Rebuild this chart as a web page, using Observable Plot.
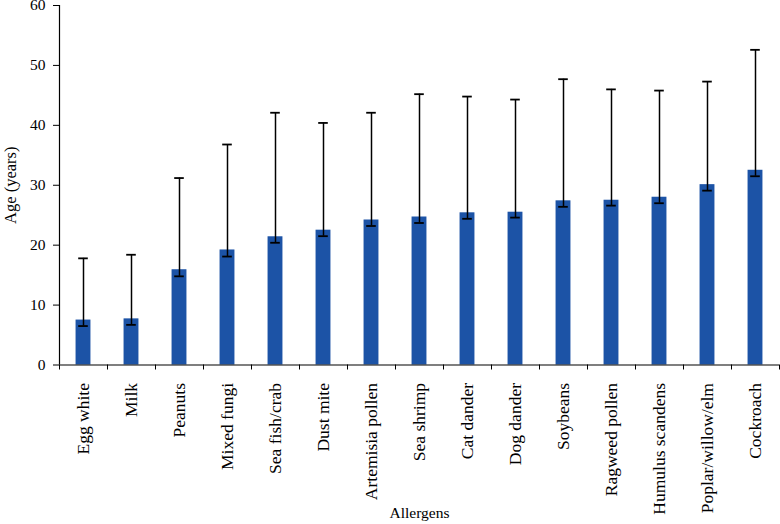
<!DOCTYPE html>
<html>
<head>
<meta charset="utf-8">
<script src="https://cdn.jsdelivr.net/npm/d3@7"></script>
<script src="https://cdn.jsdelivr.net/npm/@observablehq/plot@0.6"></script>
<style>
  html, body { margin: 0; padding: 0; background: #fff; }
</style>
</head>
<body>
<div id="chart"></div>
<script>
const categories = ["Egg white", "Milk", "Peanuts", "Mixed fungi", "Sea fish/crab", "Dust mite", "Artemisia pollen", "Sea shrimp", "Cat dander", "Dog dander", "Soybeans", "Ragweed pollen", "Humulus scandens", "Poplar/willow/elm", "Cockroach"];
const means = [7.5, 7.7, 15.9, 19.2, 21.4, 22.5, 24.2, 24.7, 25.4, 25.5, 27.4, 27.5, 28.0, 30.1, 32.5];
const upper = [17.8, 18.4, 31.2, 36.8, 42.1, 40.4, 42.1, 45.2, 44.8, 44.3, 47.7, 46.0, 45.8, 47.3, 52.6];
const lower = [6.5, 6.7, 14.8, 18.1, 20.4, 21.5, 23.2, 23.7, 24.4, 24.6, 26.4, 26.6, 27.0, 29.1, 31.5];
const yTicks = [0, 10, 20, 30, 40, 50, 60];

const data = categories.map((c, i) => ({cat: c, i, mean: means[i], upper: upper[i], lower: lower[i]}));
const barHalf = 0.155;
const capHalf = 0.1;
const font = "'Liberation Serif', 'Times New Roman', serif";

const chart = Plot.plot({
  width: 780,
  height: 524,
  marginLeft: 59,
  marginRight: 1,
  marginTop: 5,
  marginBottom: 159.5,
  style: {fontFamily: font, fontSize: "15px", color: "#000", background: "#fff"},
  x: {type: "linear", domain: [0, categories.length]},
  y: {domain: [0, 60]},
  marks: [
    Plot.rectY(data, {x1: d => d.i + 0.5 - barHalf, x2: d => d.i + 0.5 + barHalf, y: "mean", fill: "#1c53a6"}),
    Plot.ruleX(data, {x: d => d.i + 0.5, y1: "lower", y2: "upper", stroke: "#000", strokeWidth: 1.5}),
    Plot.ruleY(data, {y: "upper", x1: d => d.i + 0.5 - capHalf, x2: d => d.i + 0.5 + capHalf, stroke: "#000", strokeWidth: 1.8}),
    Plot.ruleY(data, {y: "lower", x1: d => d.i + 0.5 - capHalf, x2: d => d.i + 0.5 + capHalf, stroke: "#000", strokeWidth: 1.8}),
    Plot.axisY({ticks: yTicks, tickSize: 6, tickPadding: 8, fontSize: 15.5, label: null}),
    Plot.axisY({ticks: [], tickSize: 0, fontSize: 16.5, label: "Age (years)", labelAnchor: "center", labelArrow: false, labelOffset: 55}),
    Plot.axisX({ticks: data.map(d => d.i + 0.5), tickFormat: v => categories[Math.floor(v)], tickSize: 0, tickPadding: 18, tickRotate: -90, fontSize: 17.5, label: null}),
    Plot.axisX({ticks: [], tickSize: 0, fontSize: 15.5, label: "Allergens", labelAnchor: "center", labelArrow: false, labelOffset: 153}),
    Plot.axisX({ticks: d3.range(categories.length + 1), tickFormat: () => "", tickSize: 5, label: null}),
    Plot.ruleX([0], {stroke: "#000", strokeWidth: 1.2}),
    Plot.ruleY([0], {stroke: "#000", strokeWidth: 1.2})
  ]
});
document.getElementById("chart").appendChild(chart);
</script>
</body>
</html>
